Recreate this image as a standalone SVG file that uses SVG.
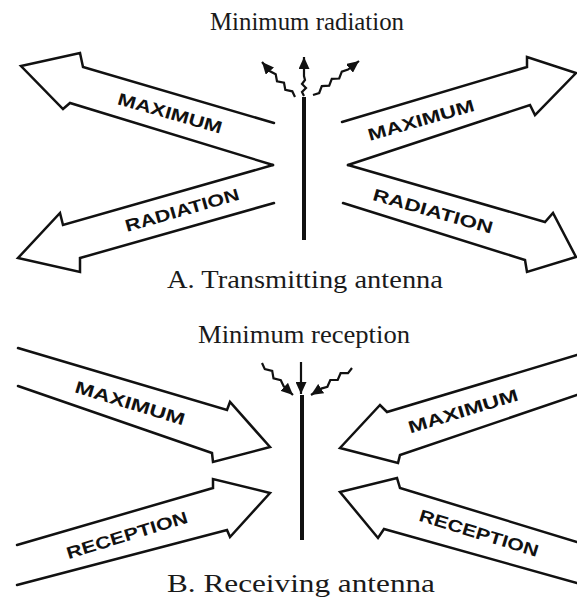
<svg xmlns="http://www.w3.org/2000/svg" width="577" height="600" viewBox="0 0 577 600">
<style>
.bg{fill:#fff}
.arrow{fill:none;stroke:#111;stroke-width:2.5;stroke-linejoin:miter;stroke-linecap:round}
.ant{stroke:#111;stroke-width:4;fill:none}
.wave{fill:none;stroke:#111;stroke-width:2.2;marker-end:url(#head)}
.lbl{font-family:"Liberation Sans",Arial,sans-serif;font-weight:bold;font-size:17px;fill:#111;text-anchor:middle}
.title{font-family:"Liberation Serif","Times New Roman",serif;font-size:26px;fill:#1a1a1a}
</style>
<defs>
<marker id="head" markerUnits="userSpaceOnUse" markerWidth="13" markerHeight="11" refX="12" refY="5.5" orient="auto">
<path d="M0,0 L12,5.5 L0,11 Z" fill="#111"/>
</marker>
</defs>
<rect class="bg" width="577" height="600"/>

<!-- Section A -->
<text class="title" x="210" y="30" textLength="194" lengthAdjust="spacingAndGlyphs">Minimum radiation</text>
<text class="title" x="167" y="288" textLength="276" lengthAdjust="spacingAndGlyphs">A. Transmitting antenna</text>

<g id="antennaA">
<line class="ant" x1="304" y1="97" x2="304" y2="240"/>
</g>

<g id="arrowA-max-left">
<polyline class="arrow" points="274,123 83,67 80,53 21,66 63,109 70,103 273,165"/>
<text class="lbl" transform="translate(170,113) rotate(16)" y="6" textLength="108" lengthAdjust="spacingAndGlyphs">MAXIMUM</text>
</g>
<g id="arrowA-rad-left">
<polyline class="arrow" points="273,165 63,225 60,213 18,258 80,272 80,258 274,203"/>
<text class="lbl" transform="translate(182,210) rotate(-16)" y="6" textLength="118" lengthAdjust="spacingAndGlyphs">RADIATION</text>
</g>
<g id="arrowA-max-right">
<polyline class="arrow" points="342,122 527,67 527,57 576,73 535,115 530,105 348,165"/>
<text class="lbl" transform="translate(421,120) rotate(-16)" y="6" textLength="110" lengthAdjust="spacingAndGlyphs">MAXIMUM</text>
</g>
<g id="arrowA-rad-right">
<polyline class="arrow" points="348,165 545,222 553,213 576,257 527,272 525,260 343,203"/>
<text class="lbl" transform="translate(433,211) rotate(16)" y="6" textLength="124" lengthAdjust="spacingAndGlyphs">RADIATION</text>
</g>

<g id="wavesA">
<polyline class="wave" points="295,97 292.3,91.3 285.3,89.8 284,82.7 277,81.3 275.7,74.2 270.1,71.3 262,62"/>
<polyline class="wave" points="304,96 302,92 306,88 302,84 305,80 304,76 304,57"/>
<polyline class="wave" points="313,95 319.2,93 321.8,86.1 329.2,85.7 331.8,78.9 339.2,78.5 341.8,71.6 348,69.6 359,61"/>
</g>

<!-- Section B -->
<text class="title" x="198" y="343" textLength="212" lengthAdjust="spacingAndGlyphs">Minimum reception</text>
<text class="title" x="167" y="592" textLength="268" lengthAdjust="spacingAndGlyphs">B. Receiving antenna</text>

<g id="antennaB">
<line class="ant" x1="302" y1="395" x2="302" y2="540"/>
</g>

<g id="arrowB-max-left">
<polyline class="arrow" points="18,348 227,410 230,402 270,447 213,462 212,453 18,386"/>
<text class="lbl" transform="translate(130,403) rotate(17)" y="6" textLength="114" lengthAdjust="spacingAndGlyphs">MAXIMUM</text>
</g>
<g id="arrowB-rec-left">
<polyline class="arrow" points="17,545 213,488 213,479 270,493 230,537 227,530 17,585"/>
<text class="lbl" transform="translate(127,535) rotate(-17)" y="6" textLength="126" lengthAdjust="spacingAndGlyphs">RECEPTION</text>
</g>
<g id="arrowB-max-right">
<polyline class="arrow" points="577,355 387,412 380,405 340,448 398,463 400,455 577,395"/>
<text class="lbl" transform="translate(463,411) rotate(-17)" y="6" textLength="114" lengthAdjust="spacingAndGlyphs">MAXIMUM</text>
</g>
<g id="arrowB-rec-right">
<polyline class="arrow" points="577,542 400,488 397,478 340,492 378,538 384,529 577,583"/>
<text class="lbl" transform="translate(479,533) rotate(17)" y="6" textLength="124" lengthAdjust="spacingAndGlyphs">RECEPTION</text>
</g>

<g id="wavesB">
<polyline class="wave" points="262,363 264.8,369.1 272.2,370.9 273.5,378.4 280.8,380.3 283.7,386.3 293,395"/>
<polyline class="wave" points="301,362 301,394"/>
<polyline class="wave" points="352,368 348,373.1 340.6,373.2 337.7,380 330.3,380 327.4,386.8 321.1,388.6 311,395"/>
</g>
</svg>
